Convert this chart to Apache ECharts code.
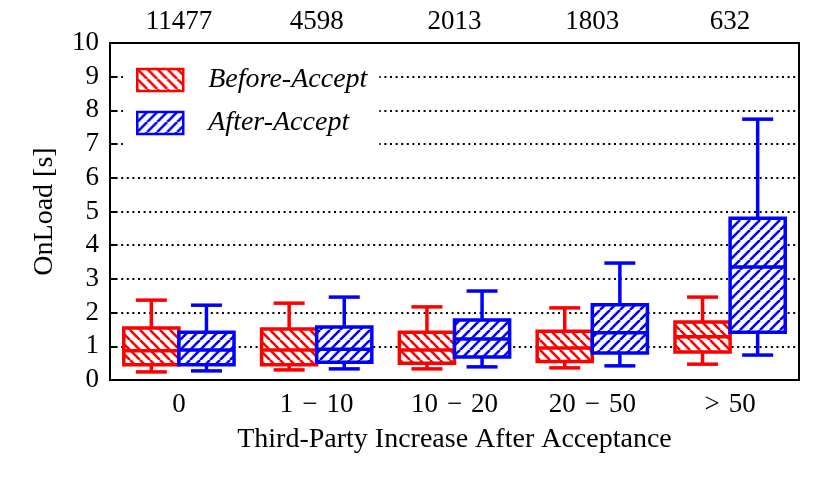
<!DOCTYPE html>
<html><head><meta charset="utf-8">
<script src="https://cdn.jsdelivr.net/npm/echarts@6/dist/echarts.min.js"></script>
<style>html,body{margin:0;padding:0;background:#fff}#c{width:830px;height:489px}</style>
</head><body><div id="c"></div>
<script>
const categories = ['0', '1\u2004\u2212\u200410', '10\u2004\u2212\u200420', '20\u2004\u2212\u200450', '>\u200450'];
const counts = ['11477', '4598', '2013', '1803', '632'];
const seriesNames = ['Before-Accept', 'After-Accept'];
// each row: [min, q1, median, q3, max]
const beforeAccept = [
  [0.24, 0.45, 0.87, 1.54, 2.37],
  [0.30, 0.45, 0.89, 1.51, 2.28],
  [0.33, 0.50, 0.89, 1.42, 2.17],
  [0.36, 0.55, 0.95, 1.45, 2.14],
  [0.47, 0.83, 1.28, 1.72, 2.46]
];
const afterAccept = [
  [0.27, 0.45, 0.89, 1.42, 2.22],
  [0.33, 0.53, 0.91, 1.57, 2.46],
  [0.39, 0.68, 1.22, 1.78, 2.64],
  [0.42, 0.80, 1.40, 2.23, 3.47],
  [0.74, 1.42, 3.35, 4.80, 7.74]
];

const RED = '#ff0000', BLUE = '#0000ff';
const FONT = '"Liberation Serif", "DejaVu Serif", serif';

function hatch(color, forward) {
  const s = 10;
  const c = document.createElement('canvas');
  c.width = s; c.height = s;
  const g = c.getContext('2d');
  g.fillStyle = '#fff'; g.fillRect(0, 0, s, s);
  g.strokeStyle = color; g.lineWidth = 2.6;
  g.beginPath();
  for (let x0 = -s; x0 <= s; x0 += s) {
    if (forward) { g.moveTo(x0, s); g.lineTo(x0 + s, 0); }
    else { g.moveTo(x0, 0); g.lineTo(x0 + s, s); }
  }
  g.stroke();
  return { image: c, repeat: 'repeat' };
}
const redPat = hatch(RED, false);
const bluePat = hatch(BLUE, true);

function makeRender(color, side, pattern) {
  return function (params, api) {
    const cat = api.value(0);
    const band = api.size([1, 0])[0];
    const bw = band * 0.4;
    const cx = api.coord([cat, 0])[0] + side * band * 0.2;
    const y = i => api.coord([cat, api.value(i)])[1];
    const yMin = y(1), yQ1 = y(2), yMed = y(3), yQ3 = y(4), yMax = y(5);
    const cap = band * 0.225;
    const ls = { stroke: color, lineWidth: 3.5, fill: null };
    return {
      type: 'group', children: [
        { type: 'line', shape: { x1: cx, y1: yQ3, x2: cx, y2: yMax }, style: ls },
        { type: 'line', shape: { x1: cx - cap / 2, y1: yMax, x2: cx + cap / 2, y2: yMax }, style: ls },
        { type: 'line', shape: { x1: cx, y1: yQ1, x2: cx, y2: yMin }, style: ls },
        { type: 'line', shape: { x1: cx - cap / 2, y1: yMin, x2: cx + cap / 2, y2: yMin }, style: ls },
        { type: 'rect', shape: { x: cx - bw / 2, y: yQ3, width: bw, height: yQ1 - yQ3 }, style: { fill: pattern, stroke: color, lineWidth: 3.5 } },
        { type: 'line', shape: { x1: cx - bw / 2, y1: yMed, x2: cx + bw / 2, y2: yMed }, style: ls }
      ]
    };
  };
}

const chart = echarts.init(document.getElementById('c'), null, { renderer: 'canvas' });
chart.setOption({
  animation: false,
  backgroundColor: '#fff',
  grid: { left: 110, right: 31, top: 43, bottom: 109, show: true, borderColor: '#000', borderWidth: 2, backgroundColor: 'transparent' },
  legend: {
    orient: 'vertical', left: 123, top: 51,
    padding: [15, 12, 19, 13],
    backgroundColor: '#fff',
    itemWidth: 46, itemHeight: 22, itemGap: 15,
    textStyle: { fontFamily: FONT, fontStyle: 'italic', fontSize: 28, color: '#000', padding: [0, 0, 0, 20] },
    data: [
      { name: seriesNames[0], icon: 'rect', itemStyle: { color: redPat, borderColor: RED, borderWidth: 2.5 } },
      { name: seriesNames[1], icon: 'rect', itemStyle: { color: bluePat, borderColor: BLUE, borderWidth: 2.5 } }
    ]
  },
  xAxis: [
    {
      type: 'category', data: categories, position: 'bottom',
      axisLine: { lineStyle: { color: '#000', width: 2 } },
      axisTick: { inside: true, alignWithLabel: true, length: 7, lineStyle: { color: '#000', width: 2 } },
      axisLabel: { fontFamily: FONT, fontSize: 27, color: '#000', margin: 11 },
      name: 'Third-Party Increase After Acceptance', nameLocation: 'middle', nameGap: 46,
      nameTextStyle: { fontFamily: FONT, fontSize: 28, color: '#000' }
    },
    {
      type: 'category', data: counts, position: 'top',
      axisLine: { lineStyle: { color: '#000', width: 2 } },
      axisTick: { show: false },
      axisLabel: { fontFamily: FONT, fontSize: 27, color: '#000', margin: 8 }
    }
  ],
  yAxis: {
    type: 'value', min: 0, max: 10, interval: 1,
    axisLine: { show: true, lineStyle: { color: '#000', width: 2 } },
    axisTick: { show: true, inside: true, length: 7, lineStyle: { color: '#000', width: 2 } },
    axisLabel: { fontFamily: FONT, fontSize: 27, color: '#000', margin: 11 },
    splitLine: { show: true, lineStyle: { color: '#000', width: 2, type: [2, 3.6] } },
    name: 'OnLoad [s]', nameLocation: 'middle', nameGap: 51, nameRotate: 90,
    nameTextStyle: { fontFamily: FONT, fontSize: 28, color: '#000' }
  },
  series: [
    {
      name: seriesNames[0], type: 'custom', xAxisIndex: 0,
      renderItem: makeRender(RED, -1, redPat),
      encode: { x: 0, y: [1, 2, 3, 4, 5] },
      itemStyle: { color: RED },
      data: beforeAccept.map((v, i) => [i].concat(v))
    },
    {
      name: seriesNames[1], type: 'custom', xAxisIndex: 0,
      renderItem: makeRender(BLUE, 1, bluePat),
      encode: { x: 0, y: [1, 2, 3, 4, 5] },
      itemStyle: { color: BLUE },
      data: afterAccept.map((v, i) => [i].concat(v))
    }
  ]
});
</script></body></html>
